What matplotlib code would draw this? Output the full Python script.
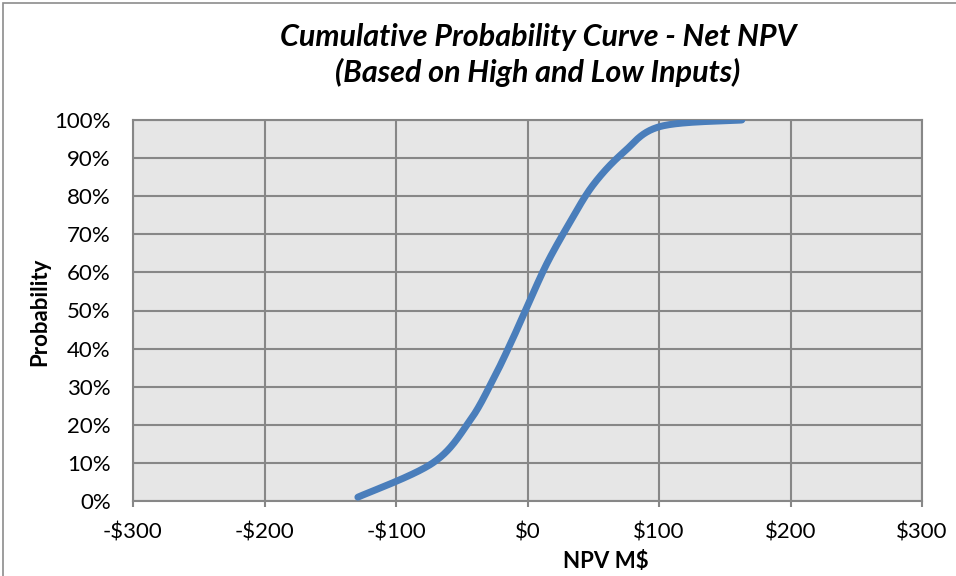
import numpy as np
import matplotlib
matplotlib.use("Agg")
import matplotlib.pyplot as plt
from matplotlib.patches import Rectangle
from matplotlib.ticker import FuncFormatter

# values
npv = [-129, -72, -44, -26, -12, 1, 15, 32, 50, 73, 101, 163]
prob = [1, 10, 21, 32, 42, 52, 62.5, 73, 83, 91.5, 98.3, 100]

x_ticks = [-300, -200, -100, 0, 100, 200, 300]
y_ticks = [0, 10, 20, 30, 40, 50, 60, 70, 80, 90, 100]

title = "Cumulative Probability Curve - Net NPV\n(Based on High and Low Inputs)"
x_label = "NPV M$"
y_label = "Probability"


def smooth(xs, ys, n=40):
    # excel style smoothed line (bezier through the points)
    xs = np.asarray(xs, float)
    ys = np.asarray(ys, float)
    px = np.concatenate([[xs[0]], xs, [xs[-1]]])
    py = np.concatenate([[ys[0]], ys, [ys[-1]]])
    outx, outy = [], []
    t = np.linspace(0, 1, n)
    for i in range(1, len(px) - 2):
        p0 = np.array([px[i], py[i]])
        p3 = np.array([px[i + 1], py[i + 1]])
        p1 = p0 + (np.array([px[i + 1], py[i + 1]]) - np.array([px[i - 1], py[i - 1]])) / 6
        p2 = p3 - (np.array([px[i + 2], py[i + 2]]) - np.array([px[i], py[i]])) / 6
        b = ((1 - t) ** 3)[:, None] * p0 + (3 * (1 - t) ** 2 * t)[:, None] * p1 \
            + (3 * (1 - t) * t ** 2)[:, None] * p2 + (t ** 3)[:, None] * p3
        outx.extend(b[:, 0])
        outy.extend(b[:, 1])
    return outx, outy


plt.rcParams['font.family'] = ['Lato', 'DejaVu Sans']

fig = plt.figure(figsize=(9.56, 5.76), dpi=100)
fig.patches.append(Rectangle((3 / 956, -0.1), 1.2, 1.1 - 3 / 576, transform=fig.transFigure,
                             fill=False, edgecolor='#8c8c8c', linewidth=1.2))

ax = fig.add_axes([133 / 956, 75 / 576, 789 / 956, 381 / 576])
ax.set_facecolor('#e6e6e6')

sx, sy = smooth(npv, prob)
ax.plot(sx, sy, color='#4a7ebb', linewidth=5, solid_capstyle='round',
        solid_joinstyle='round', zorder=3)

ax.set_xlim(-300, 300)
ax.set_ylim(0, 100)
ax.set_xticks(x_ticks)
ax.set_yticks(y_ticks)
ax.xaxis.set_major_formatter(FuncFormatter(lambda v, p: ('-$%d' % abs(v)) if v < 0 else '$%d' % v))
ax.yaxis.set_major_formatter(FuncFormatter(lambda v, p: '%d%%' % v))
ax.grid(True, color='#878787', linewidth=1.5)
ax.set_axisbelow(True)
for s in ax.spines.values():
    s.set_color('#878787')
    s.set_linewidth(1.5)
ax.tick_params(axis='x', length=4.5, width=1.5, color='#878787', labelsize=16, pad=11)
ax.tick_params(axis='y', length=0, labelsize=16, pad=16)

fig.text(538 / 956, 1 - 55 / 576, title, ha='center', va='center', fontsize=22,
         fontweight='bold', style='italic', linespacing=1.3)
fig.text(606 / 956, 1 - 562 / 576, x_label, ha='center', va='center', fontsize=16, fontweight='bold')
fig.text(40 / 956, 1 - 312 / 576, y_label, ha='center', va='center', fontsize=16,
         fontweight='bold', rotation=90)

fig.savefig('out.png', dpi=100)
